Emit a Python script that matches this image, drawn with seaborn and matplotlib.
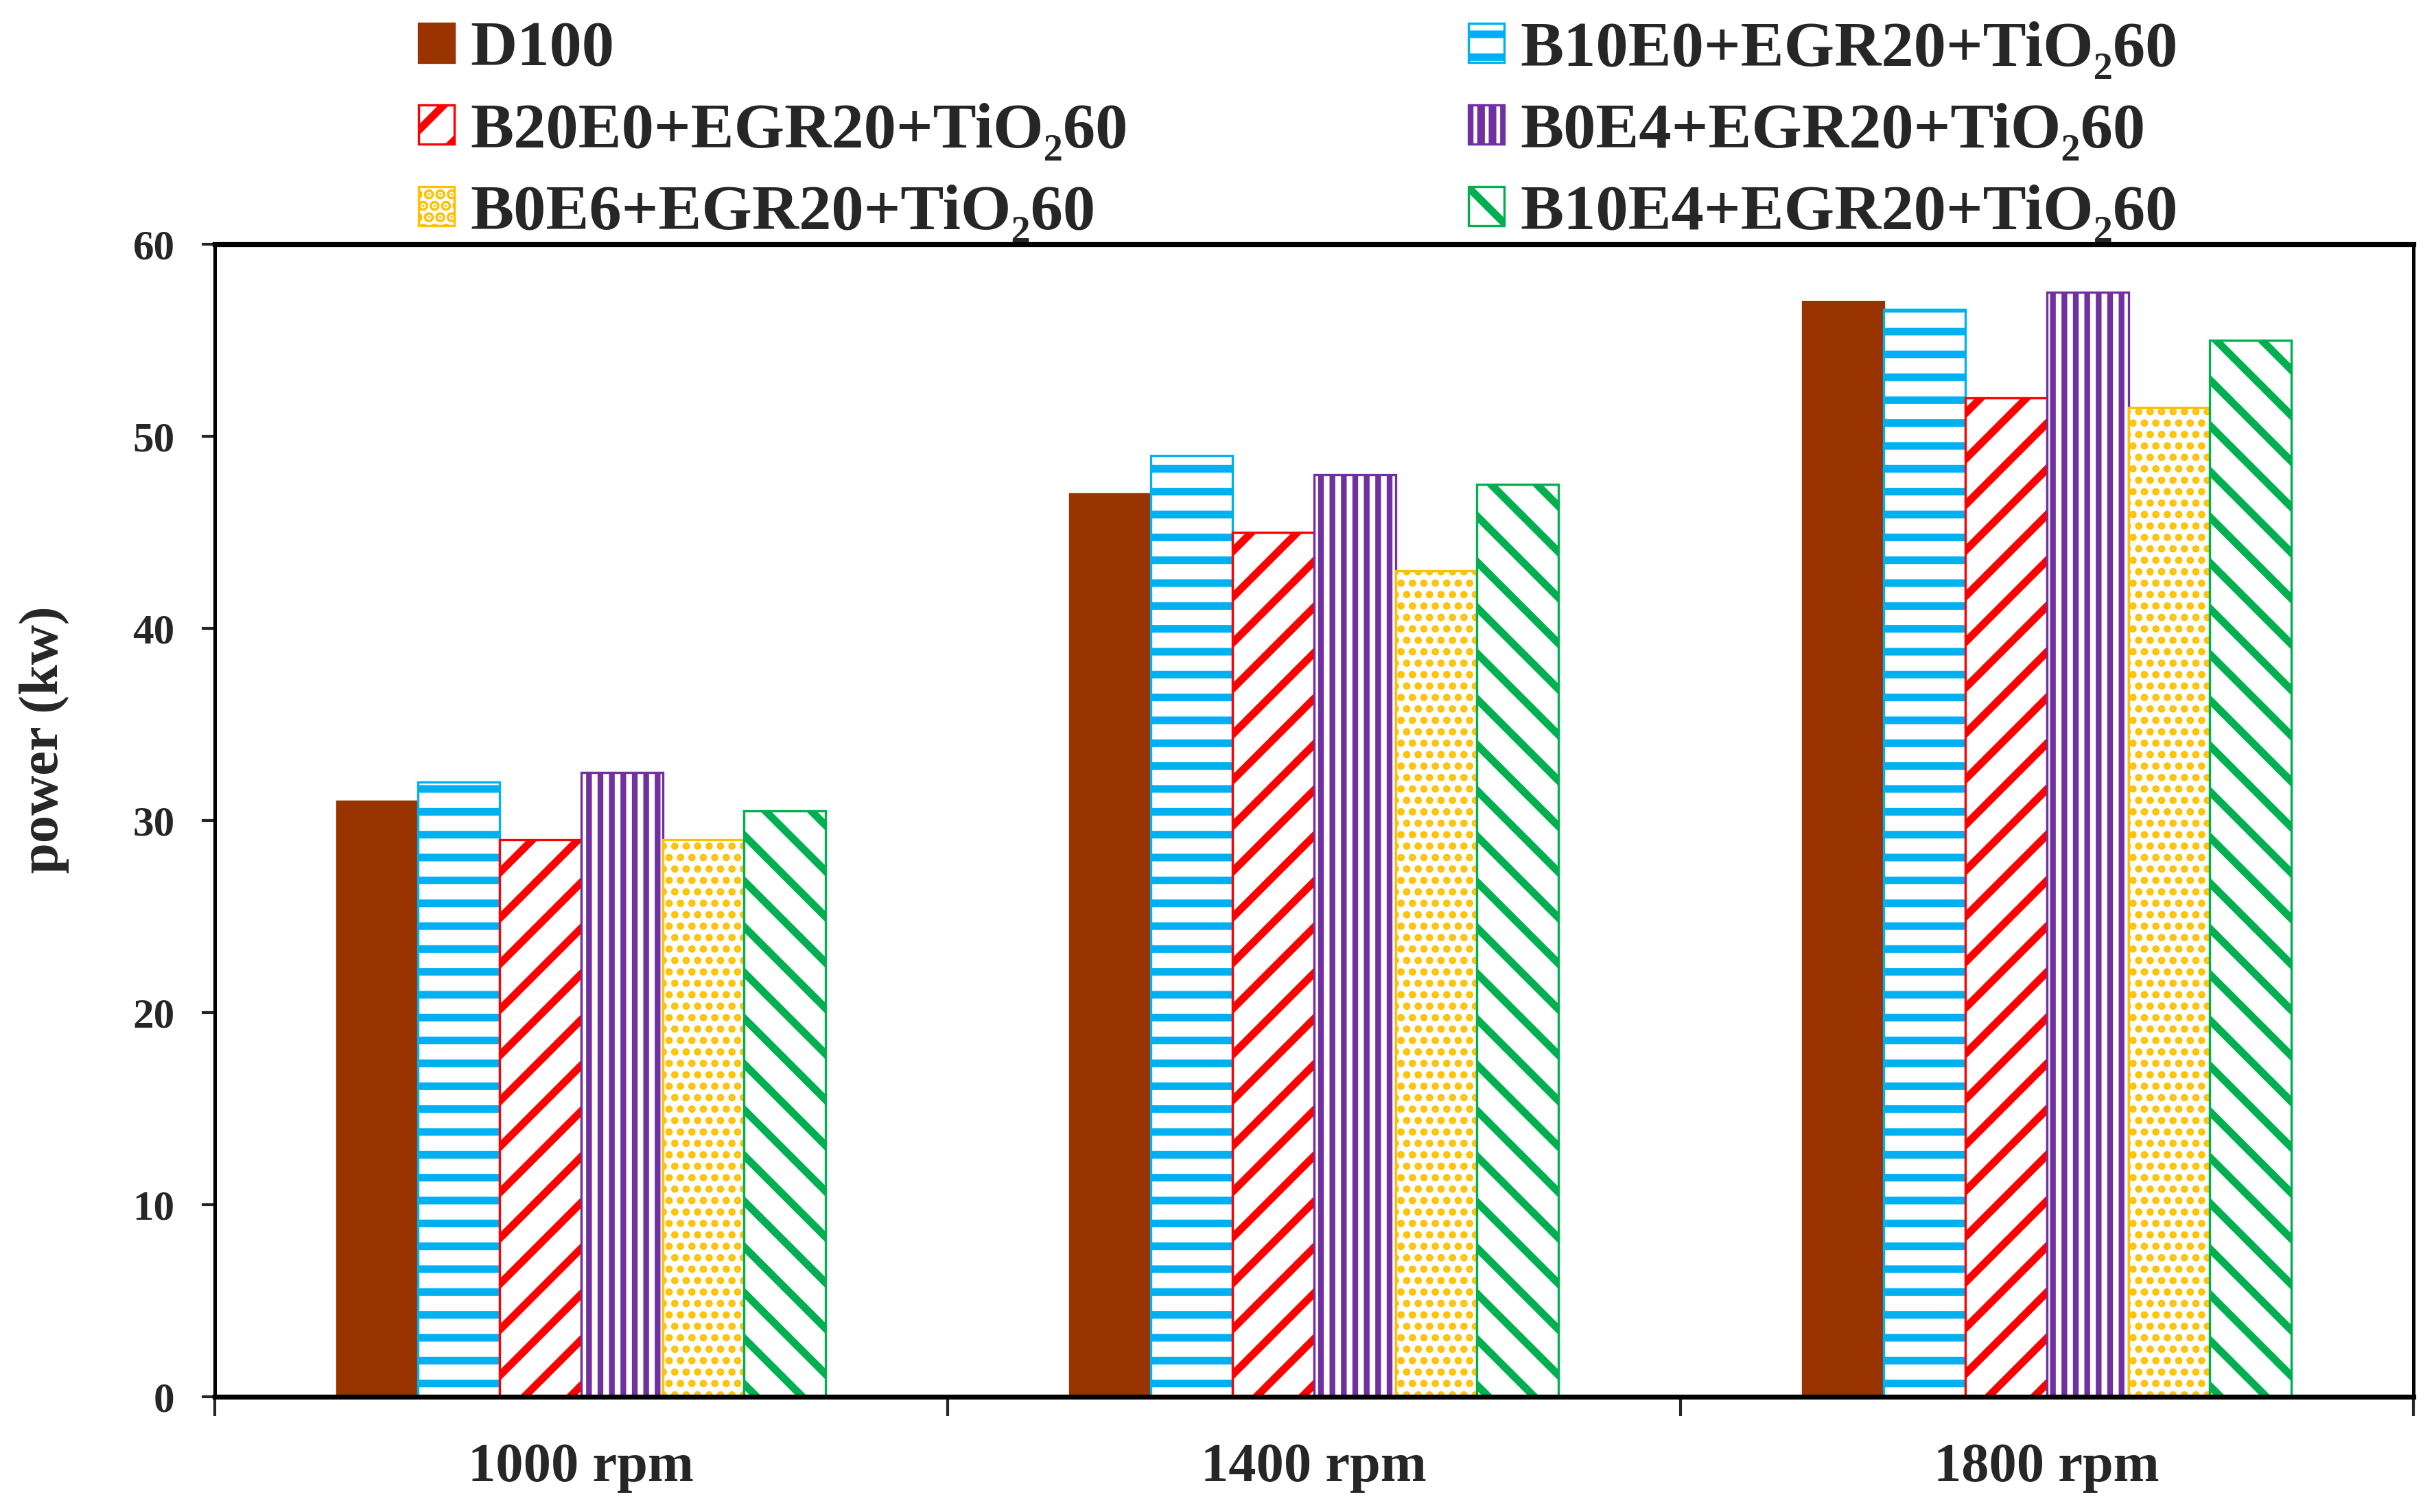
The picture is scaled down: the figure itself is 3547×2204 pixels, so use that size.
import pandas as pd
import matplotlib
matplotlib.use("Agg")
import matplotlib.pyplot as plt
import seaborn as sns

# engine speed groups
speeds = ["1000 rpm", "1400 rpm", "1800 rpm"]

# fuel blends (legend labels)
fuels = ["D100",
         "B10E0+EGR20+TiO\u208260",
         "B20E0+EGR20+TiO\u208260",
         "B0E4+EGR20+TiO\u208260",
         "B0E6+EGR20+TiO\u208260",
         "B10E4+EGR20+TiO\u208260"]

# power (kw)
d100 = [31.0, 47.0, 57.0]
b10e0 = [32.0, 49.0, 56.6]
b20e0 = [29.0, 45.0, 52.0]
b0e4 = [32.5, 48.0, 57.5]
b0e6 = [29.0, 43.0, 51.5]
b10e4 = [30.5, 47.5, 55.0]

colors = ["#993300", "#00B0F0", "#FF0000", "#7030A0", "#FFC000", "#00B050"]
hatches = [None, "-", "/", "||", "..", "\\"]
hatch_lw = [None, 4.0, 4.0, 3.0, 2.6, 4.0]

# long table for seaborn
rows = []
for name, vals in zip(fuels, [d100, b10e0, b20e0, b0e4, b0e6, b10e4]):
    for s, v in zip(speeds, vals):
        rows.append({"speed": s, "fuel": name, "power": v})
df = pd.DataFrame(rows)

sns.set_style("white")
plt.rcParams["font.family"] = ["Liberation Serif", "DejaVu Serif"]
plt.rcParams["font.weight"] = "bold"
plt.rcParams["hatch.linewidth"] = 4.0

fig = plt.figure(figsize=(17.74, 11.02), dpi=200)
ax = fig.add_axes([0.0882, 0.0762, 0.903, 0.7623])

sns.barplot(data=df, x="speed", y="power", hue="fuel", order=speeds,
            hue_order=fuels, palette=colors, width=0.667, gap=0,
            saturation=1, legend=False, ax=ax)

# white bars with coloured hatch, except D100 which is solid
for i, cont in enumerate(ax.containers):
    for bar in cont:
        if hatches[i] is None:
            bar.set_facecolor(colors[i])
            bar.set_edgecolor(colors[i])
        else:
            bar.set_facecolor("white")
            bar.set_edgecolor(colors[i])
            bar.set_hatch(hatches[i])
            if hasattr(bar, "set_hatchcolor"):
                bar.set_hatchcolor(colors[i])
            if hasattr(bar, "set_hatch_linewidth"):
                bar.set_hatch_linewidth(hatch_lw[i])
        bar.set_linewidth(1.2)

ax.set_xlim(-0.5, 2.5)
ax.set_ylim(0, 60)
ax.set_yticks(range(0, 61, 10))
ax.set_xlabel("")
ax.set_ylabel("power (kw)", fontsize=29, fontweight="bold")
ax.yaxis.set_label_coords(-0.066, 0.57)

ax.tick_params(axis="y", direction="out", length=7, width=1.5,
               labelsize=22, pad=14, left=True)
ax.tick_params(axis="x", which="major", length=0, labelsize=29, pad=24)
ax.set_xticks([-0.5, 0.5, 1.5, 2.5], minor=True)
ax.tick_params(axis="x", which="minor", direction="out", length=10,
               width=1.5, bottom=True)

for side in ["left", "right"]:
    ax.spines[side].set_linewidth(1.8)
for side in ["top", "bottom"]:
    ax.spines[side].set_linewidth(2.6)
for sp in ax.spines.values():
    sp.set_color("black")
    sp.set_visible(True)

# legend in two columns above the plot
order = [0, 2, 4, 1, 3, 5]
fig.legend(handles=[ax.containers[i] for i in order],
           labels=[fuels[i] for i in order],
           loc="upper left", bbox_to_anchor=(0.164, 0.999),
           ncol=2, frameon=False, fontsize=34,
           handlelength=0.55, handleheight=0.55, handletextpad=0.25,
           columnspacing=5.25, labelspacing=0.36,
           borderpad=0.3, borderaxespad=0)

fig.savefig("out.png", dpi=200)
